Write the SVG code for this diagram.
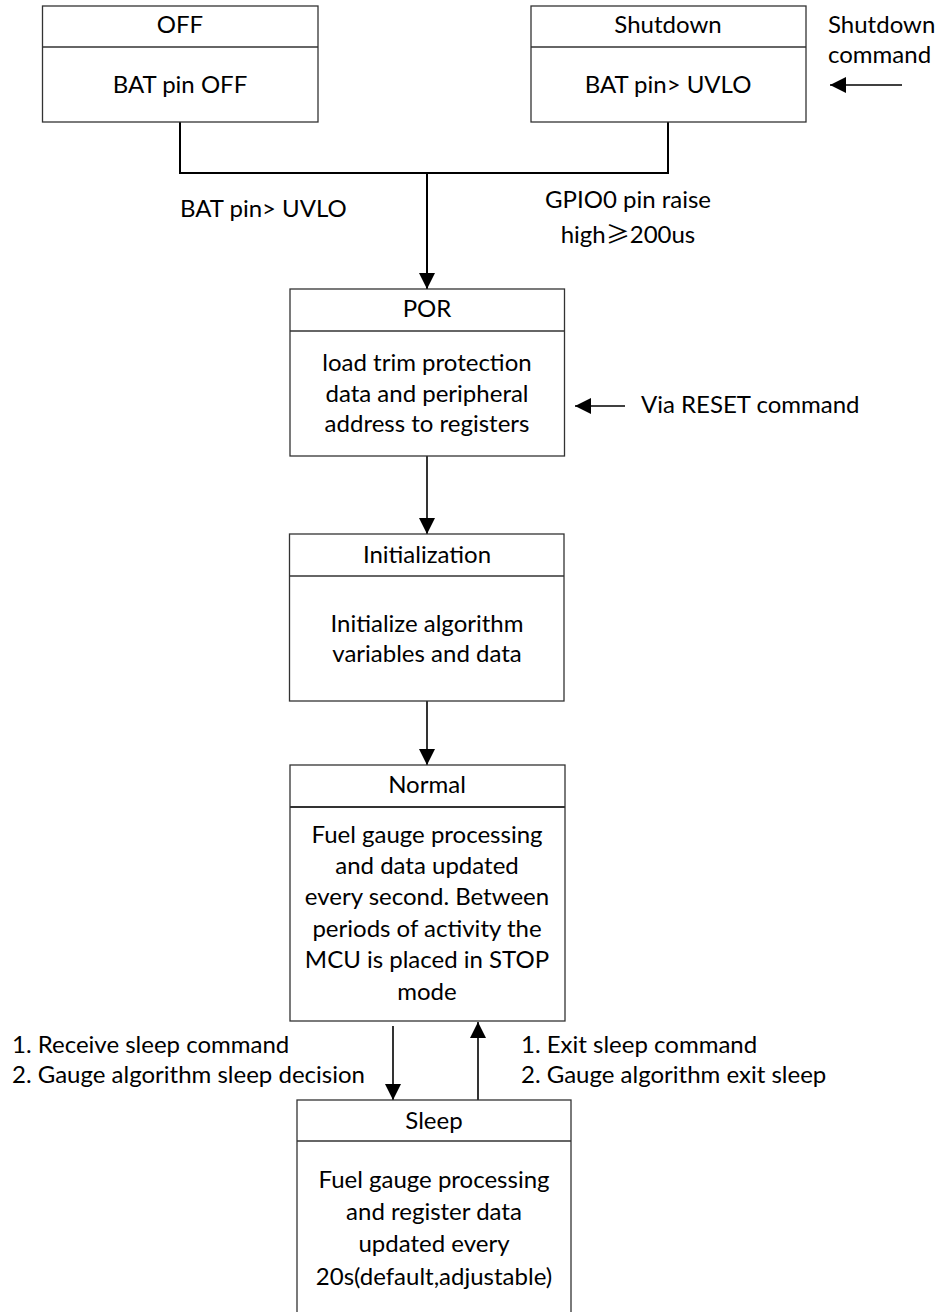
<svg xmlns="http://www.w3.org/2000/svg" width="938" height="1312" viewBox="0 0 938 1312">
<style>
text{font-family:Lato,"Liberation Sans",sans-serif;font-size:24px;fill:#000}
.c{text-anchor:middle}
.box{fill:#fff;stroke:#333;stroke-width:1.3}
.sep{stroke:#333;stroke-width:1.3}
.ln{fill:none;stroke:#000;stroke-width:1.6}
.thick{fill:none;stroke:#000;stroke-width:2}
.cjk{font-family:"Noto Sans CJK SC",sans-serif}
</style>
<defs>
<marker id="ah" viewBox="0 0 16 16" refX="16" refY="8" markerWidth="16" markerHeight="16" markerUnits="userSpaceOnUse" orient="auto">
<path d="M0,0 L16,8 L0,16 Z" fill="#000"/>
</marker>
</defs>
<rect width="938" height="1312" fill="#fff"/>
<g id="connectors">
<path class="thick" d="M180,122 V173 H668 V122"/>
<path class="thick" d="M427,173 V289" marker-end="url(#ah)"/>
<path class="ln" d="M902,85 H830" marker-end="url(#ah)"/>
<path class="ln" d="M625,406 H575" marker-end="url(#ah)"/>
<path class="ln" d="M427,456 V534" marker-end="url(#ah)"/>
<path class="ln" d="M427,701 V765" marker-end="url(#ah)"/>
<path class="ln" d="M393,1026 V1100" marker-end="url(#ah)"/>
<path class="ln" d="M478,1100 V1022" marker-end="url(#ah)"/>
</g>
<g id="labels">
<text x="180" y="217">BAT pin&gt; UVLO</text>
<text class="c" x="628" y="208">GPIO0 pin raise</text>
<text class="c" x="628" y="243">high<tspan class="cjk">≥</tspan>200us</text>
<text x="828" y="33">Shutdown</text>
<text x="828" y="63">command</text>
<text x="641" y="413">Via RESET command</text>
<text x="12" y="1053">1. Receive sleep command</text>
<text x="12" y="1083">2. Gauge algorithm sleep decision</text>
<text x="521" y="1053">1. Exit sleep command</text>
<text x="521" y="1083">2. Gauge algorithm exit sleep</text>
</g>
<g id="off">
<rect class="box" x="42.5" y="6" width="275.5" height="116"/>
<line class="sep" x1="42.5" y1="47" x2="318" y2="47"/>
<text class="c" x="180" y="33">OFF</text>
<text class="c" x="180" y="93">BAT pin OFF</text>
</g>
<g id="shutdown">
<rect class="box" x="531" y="6" width="275" height="116"/>
<line class="sep" x1="531" y1="47" x2="806" y2="47"/>
<text class="c" x="668" y="33">Shutdown</text>
<text class="c" x="668" y="93">BAT pin&gt; UVLO</text>
</g>
<g id="por">
<rect class="box" x="290" y="289" width="274.5" height="167"/>
<line class="sep" x1="290" y1="331" x2="564.5" y2="331"/>
<text class="c" x="427" y="317">POR</text>
<text class="c" x="427" y="371">load trim protection</text>
<text class="c" x="427" y="402">data and peripheral</text>
<text class="c" x="427" y="432">address to registers</text>
</g>
<g id="init">
<rect class="box" x="289.5" y="534" width="274.5" height="167"/>
<line class="sep" x1="289.5" y1="576" x2="564" y2="576"/>
<text class="c" x="427" y="563">Initialization</text>
<text class="c" x="427" y="632">Initialize algorithm</text>
<text class="c" x="427" y="662">variables and data</text>
</g>
<g id="normal">
<rect class="box" x="290" y="765" width="275" height="256"/>
<line class="sep" x1="290" y1="807" x2="565" y2="807" style="stroke-width:2"/>
<text class="c" x="427" y="793">Normal</text>
<text class="c" x="427" y="843">Fuel gauge processing</text>
<text class="c" x="427" y="874">and data updated</text>
<text class="c" x="427" y="905">every second. Between</text>
<text class="c" x="427" y="937">periods of activity the</text>
<text class="c" x="427" y="968">MCU is placed in STOP</text>
<text class="c" x="427" y="1000">mode</text>
</g>
<g id="sleep">
<rect class="box" x="297" y="1100" width="274" height="230"/>
<line class="sep" x1="297" y1="1141" x2="571" y2="1141"/>
<text class="c" x="434" y="1129">Sleep</text>
<text class="c" x="434" y="1188">Fuel gauge processing</text>
<text class="c" x="434" y="1220">and register data</text>
<text class="c" x="434" y="1252">updated every</text>
<text class="c" x="434" y="1285">20s(default,adjustable)</text>
</g>
</svg>
